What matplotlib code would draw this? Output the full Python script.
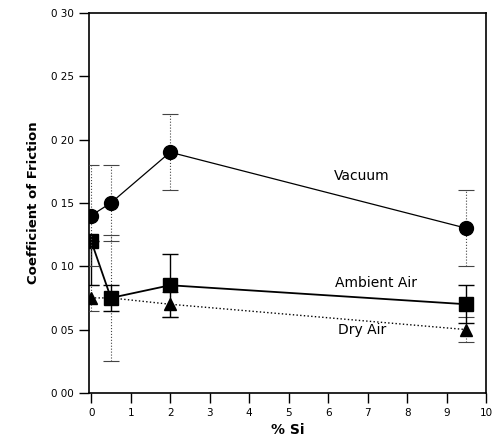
import numpy as np
import matplotlib.pyplot as plt

plt.rcParams['font.family'] = 'DejaVu Sans'

# data
si = [0, 0.5, 2, 9.5]
vacuum = [0.14, 0.15, 0.19, 0.13]
vacuum_err = [0.04, 0.03, 0.03, 0.03]
ambient = [0.12, 0.075, 0.085, 0.07]
ambient_err_low = [0.035, 0.01, 0.025, 0.015]
ambient_err_high = [0.0, 0.01, 0.025, 0.015]
dry = [0.075, 0.075, 0.07, 0.05]
dry_err = [0.01, 0.05, 0.01, 0.01]

yticks = [0.0, 0.05, 0.10, 0.15, 0.20, 0.25, 0.30]
ytick_labels = ['0 00', '0 05', '0 10', '0 15', '0 20', '0 25', '0 30']

fig = plt.figure(figsize=(4.96, 4.43), dpi=100)
ax = fig.add_axes([0.179, 0.113, 0.801, 0.858])

# Dry air: dotted line and dotted error bars
eb = ax.errorbar(si, dry, yerr=dry_err, fmt='^', color='black', ms=8,
                 ecolor='#444444', elinewidth=0.8, capsize=6, capthick=0.8, zorder=3)
eb[2][0].set_linestyle(':')
ax.plot(si, dry, ':', color='black', lw=1.0, zorder=2)

# Ambient air: solid
ax.errorbar(si, ambient, yerr=[ambient_err_low, ambient_err_high], fmt='s',
            color='black', ms=10, ecolor='black', elinewidth=1.0, capsize=6,
            capthick=1.0, zorder=4)
ax.plot(si, ambient, '-', color='black', lw=1.3, zorder=2)

# Vacuum: thin line, dotted error bars
eb = ax.errorbar(si, vacuum, yerr=vacuum_err, fmt='o', color='black', ms=10,
                 ecolor='#444444', elinewidth=0.8, capsize=6, capthick=0.8, zorder=5)
eb[2][0].set_linestyle(':')
ax.plot(si, vacuum, '-', color='black', lw=0.9, zorder=2)

ax.text(6.85, 0.171, 'Vacuum', ha='center', va='center', fontsize=10)
ax.text(7.2, 0.087, 'Ambient Air', ha='center', va='center', fontsize=10)
ax.text(6.85, 0.050, 'Dry Air', ha='center', va='center', fontsize=10)

ax.set_xlim(-0.06, 10)
ax.set_ylim(0, 0.30)
ax.set_xticks(range(11))
ax.set_yticks(yticks)
ax.set_yticklabels(ytick_labels)
ax.tick_params(direction='out', length=7, width=1.0, labelsize=7.5)
ax.set_xlabel('% Si', fontweight='bold', fontsize=10)
ax.set_ylabel('Coefficient of Friction', fontweight='bold', fontsize=9.5, labelpad=8)
for s in ax.spines.values():
    s.set_linewidth(1.2)

fig.savefig('out.png', dpi=100)
